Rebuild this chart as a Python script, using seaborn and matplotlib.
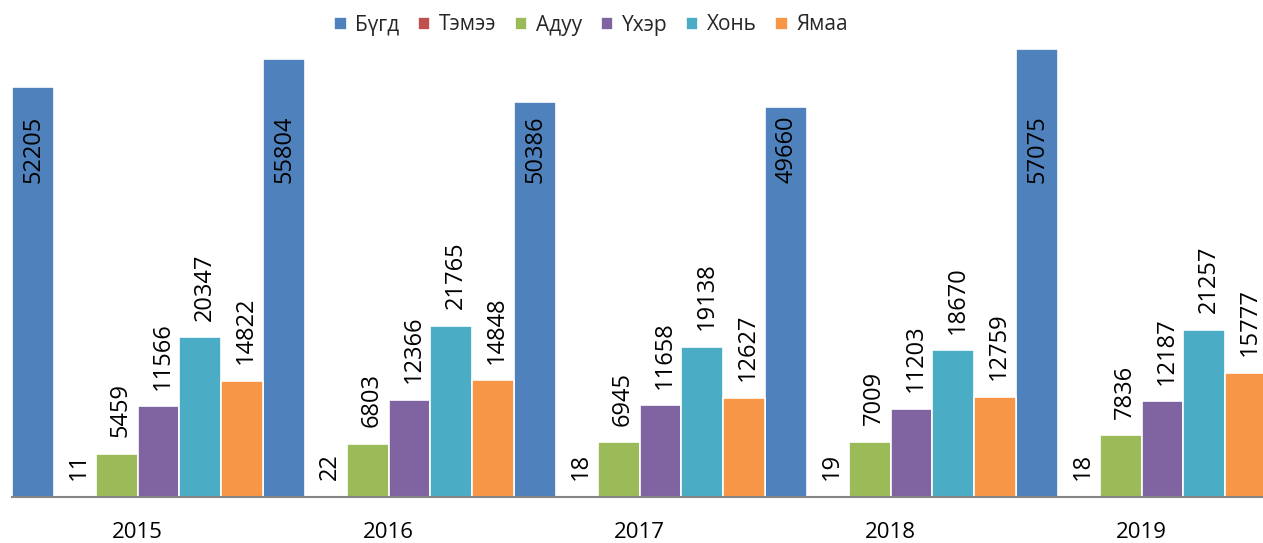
import pandas as pd
import matplotlib
matplotlib.use("Agg")
import matplotlib.pyplot as plt
import seaborn as sns

# data
years = ["2015", "2016", "2017", "2018", "2019"]
kinds = ["Бүгд", "Тэмээ", "Адуу", "Үхэр", "Хонь", "Ямаа"]
total = [52205, 55804, 50386, 49660, 57075]
camel = [11, 22, 18, 19, 18]
horse = [5459, 6803, 6945, 7009, 7836]
cattle = [11566, 12366, 11658, 11203, 12187]
sheep = [20347, 21765, 19138, 18670, 21257]
goat = [14822, 14848, 12627, 12759, 15777]

colors = ["#4F81BD", "#C0504D", "#9BBB59", "#8064A2", "#4BACC6", "#F79646"]

sns.set_style("white")
plt.rcParams['font.family'] = ['Open Sans', 'DejaVu Sans']

rows = []
for kind, vals in zip(kinds, [total, camel, horse, cattle, sheep, goat]):
    for y, v in zip(years, vals):
        rows.append({"year": y, "kind": kind, "value": v})
df = pd.DataFrame(rows)

fig = plt.figure(figsize=(12.63, 5.43), dpi=100)
ax = fig.add_axes([12 / 1263, 46 / 543, 1 - 12 / 1263, 448 / 543])

sns.barplot(data=df, x="year", y="value", hue="kind", hue_order=kinds,
            order=years, palette=colors, width=1.0, gap=0,
            edgecolor="white", linewidth=1.2, saturation=1, ax=ax)

ax.set_xlim(-0.5, 4.484)
ax.set_ylim(0, 57075)
ax.set_xlabel("")
ax.set_ylabel("")
ax.set_yticks([])
ax.tick_params(axis="x", length=0, labelsize=16, pad=18, labelcolor="black")
for s in ["left", "top", "right"]:
    ax.spines[s].set_visible(False)
ax.spines["bottom"].set_color("#868686")
ax.spines["bottom"].set_linewidth(1.5)

# value labels, rotated
for i, cont in enumerate(ax.containers):
    for bar in cont:
        h = bar.get_height()
        xc = bar.get_x() + bar.get_width() / 2
        if i == 0:
            ax.text(xc + 0.004, 44300, f"{int(h)}", rotation=90, ha="center",
                    va="center", fontsize=17, color="black")
        else:
            ax.annotate(f"{int(h)}", (xc, h), xytext=(3, 12),
                        textcoords="offset points", rotation=90,
                        ha="center", va="bottom", fontsize=17, color="black")

handles, labels = ax.get_legend_handles_labels()
ax.get_legend().remove()
fig.legend(handles, labels, loc="center", bbox_to_anchor=(591 / 1263, 1 - 25 / 543),
           ncol=6, frameon=False, fontsize=15, handlelength=0.6, handleheight=0.6,
           handletextpad=0.4, columnspacing=0.9)

fig.savefig("out.png", dpi=100)
